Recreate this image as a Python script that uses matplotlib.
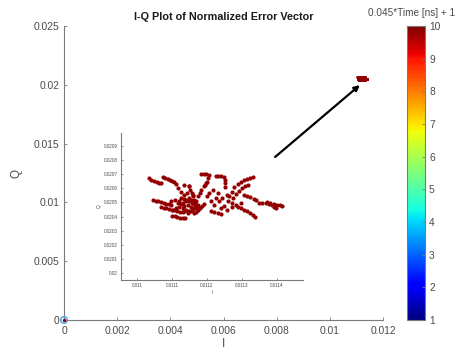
import numpy as np
import matplotlib
matplotlib.use("Agg")
import matplotlib.pyplot as plt
from matplotlib.ticker import FuncFormatter
import matplotlib.cm as cm
import matplotlib.colors as mcolors

plt.rcParams['font.family'] = ['Liberation Sans', 'DejaVu Sans']

# ---------------- data ----------------
# traces of the normalized error vector (I, Q)
trace_I = [
    [0.011033, 0.011041, 0.011048, 0.011056, 0.011063, 0.011069],
    [0.011074, 0.011081, 0.011088, 0.011095, 0.011100, 0.011105],
    [0.011045, 0.011053, 0.011061, 0.011068, 0.011076, 0.011083, 0.011091, 0.011098],
    [0.011069, 0.011077, 0.011084, 0.011092, 0.011099, 0.011107, 0.011114, 0.011122, 0.011130],
    [0.011099, 0.011107, 0.011114, 0.011122, 0.011130, 0.011137],
    [0.011097, 0.011107, 0.011116, 0.011126, 0.011135, 0.011145, 0.011154, 0.011164, 0.011173],
    [0.011102, 0.011112, 0.011121, 0.011130, 0.011140, 0.011149, 0.011159, 0.011168],
    [0.011149, 0.011152, 0.011156, 0.011159, 0.011162, 0.011165, 0.011169],
    [0.011126, 0.011133, 0.011141, 0.011148, 0.011156, 0.011164],
    [0.011164, 0.011169, 0.011175, 0.011181, 0.011186, 0.011192],
    [0.011173, 0.011179, 0.011184, 0.011190, 0.011196],
    [0.011183, 0.011190, 0.011198, 0.011205, 0.011203, 0.011200, 0.011194],
    [0.011225, 0.011232, 0.011239, 0.011247, 0.011251, 0.011252, 0.011251],
    [0.011260, 0.011264, 0.011270, 0.011277, 0.011287, 0.011296, 0.011305, 0.011315, 0.011324, 0.011332],
    [0.011270, 0.011275, 0.011282, 0.011290, 0.011300, 0.011309, 0.011317],
    [0.011305, 0.011315, 0.011324, 0.011334, 0.011341, 0.011347],
    [0.011357, 0.011367, 0.011376, 0.011386, 0.011392, 0.011398],
    [0.011372, 0.011381, 0.011391, 0.011400, 0.011409, 0.011415],
    [0.011287, 0.011296, 0.011305, 0.011315, 0.011324, 0.011332, 0.011336],
    [0.011211, 0.011220, 0.011230, 0.011239],
    [0.011201, 0.011211, 0.011220, 0.011230, 0.011239, 0.011249, 0.011258, 0.011272, 0.011282,
     0.011296, 0.011225, 0.011235, 0.011216, 0.011206, 0.011244, 0.011258, 0.011112, 0.011118,
     0.011126, 0.011135, 0.011147],
    [0.011121, 0.011130, 0.011140, 0.011147, 0.011154, 0.011135, 0.011145, 0.011154, 0.011168,
     0.011173, 0.011159, 0.011143, 0.011133],
]
trace_Q = [
    [0.020671, 0.020662, 0.020653, 0.020645, 0.020638, 0.020636],
    [0.020679, 0.020671, 0.020664, 0.020657, 0.020650, 0.020643],
    [0.020514, 0.020511, 0.020507, 0.020502, 0.020497, 0.020492, 0.020488, 0.020483],
    [0.020466, 0.020462, 0.020457, 0.020452, 0.020448, 0.020443, 0.020438, 0.020434, 0.020429],
    [0.020405, 0.020401, 0.020396, 0.020393, 0.020391, 0.020389],
    [0.020507, 0.020514, 0.020499, 0.020490, 0.020476, 0.020481, 0.020466, 0.020459, 0.020452],
    [0.020448, 0.020457, 0.020466, 0.020459, 0.020448, 0.020438, 0.020452, 0.020471],
    [0.020613, 0.020589, 0.020565, 0.020542, 0.020518, 0.020495, 0.020471],
    [0.020530, 0.020523, 0.020514, 0.020507, 0.020499, 0.020490],
    [0.020424, 0.020434, 0.020448, 0.020462, 0.020476, 0.020490],
    [0.020542, 0.020565, 0.020589, 0.020613, 0.020636],
    [0.020702, 0.020704, 0.020702, 0.020693, 0.020671, 0.020648, 0.020624],
    [0.020690, 0.020688, 0.020686, 0.020683, 0.020660, 0.020636, 0.020608],
    [0.020507, 0.020542, 0.020577, 0.020608, 0.020631, 0.020648, 0.020660, 0.020669, 0.020676, 0.020681],
    [0.020499, 0.020530, 0.020561, 0.020584, 0.020601, 0.020613, 0.020620],
    [0.020554, 0.020547, 0.020537, 0.020525, 0.020514, 0.020499],
    [0.020495, 0.020495, 0.020490, 0.020483, 0.020471, 0.020457],
    [0.020502, 0.020497, 0.020492, 0.020485, 0.020481, 0.020476],
    [0.020466, 0.020457, 0.020448, 0.020438, 0.020424, 0.020410, 0.020396],
    [0.020441, 0.020431, 0.020424, 0.020417],
    [0.020542, 0.020507, 0.020483, 0.020565, 0.020459, 0.020476, 0.020448, 0.020466, 0.020483,
     0.020495, 0.020530, 0.020507, 0.020589, 0.020565, 0.020530, 0.020554, 0.020631, 0.020601,
     0.020577, 0.020624, 0.020613],
    [0.020507, 0.020495, 0.020507, 0.020530, 0.020518, 0.020436, 0.020424, 0.020436, 0.020507,
     0.020483, 0.020554, 0.020565, 0.020554],
]
trace_color_value = 9.85          # 0.045*Time[ns] + 1 of the plotted samples
origin_I = [0.0]
origin_Q = [0.0]

main_xticks = [0, 0.002, 0.004, 0.006, 0.008, 0.01, 0.012]
main_yticks = [0, 0.005, 0.01, 0.015, 0.02, 0.025]
inset_xticks = [0.011, 0.0111, 0.0112, 0.0113, 0.0114]
inset_yticks = [0.02, 0.0201, 0.0202, 0.0203, 0.0204, 0.0205, 0.0206, 0.0207, 0.0208, 0.0209]
cbar_ticks = [1, 2, 3, 4, 5, 6, 7, 8, 9, 10]

arrow_tail = (0.00794, 0.01386)
arrow_head = (0.01113, 0.01998)

# ---------------- figure ----------------
fig = plt.figure(figsize=(4.70, 3.54), dpi=100)
text_col = '#4a4a4a'
spine_col = '#7a7a7a'
cmap = plt.get_cmap('jet')
norm = mcolors.Normalize(vmin=1, vmax=10)
pt_col = cmap(norm(trace_color_value))

all_I = np.concatenate([np.array(t) for t in trace_I])
all_Q = np.concatenate([np.array(t) for t in trace_Q])

fmt = FuncFormatter(lambda v, p: ('%g' % round(v, 6)))


def style_axes(ax, fs, ticklen, pad):
    for s in ['top', 'right']:
        ax.spines[s].set_visible(False)
    for s in ['left', 'bottom']:
        ax.spines[s].set_color(spine_col)
        ax.spines[s].set_linewidth(0.8)
    ax.tick_params(direction='in', length=ticklen, width=0.6, colors=spine_col,
                   labelcolor=text_col, labelsize=fs, pad=pad)
    ax.xaxis.set_major_formatter(fmt)
    ax.yaxis.set_major_formatter(fmt)


# main axes
ax = fig.add_axes([0.1362, 0.096, 0.6787, 0.8305])
ax.scatter(all_I, all_Q, s=4, color=pt_col, linewidths=0, zorder=3)
ax.scatter(origin_I, origin_Q, s=22, facecolors='none', edgecolors='#5aa8ea',
           linewidths=1.2, zorder=5, clip_on=False)
ax.scatter(origin_I, origin_Q, s=6, color=pt_col, linewidths=0, zorder=6, clip_on=False)
ax.set_xlim(0, 0.012)
ax.set_ylim(0, 0.025)
ax.set_xticks(main_xticks)
ax.set_yticks(main_yticks)
style_axes(ax, 7.4, 2.5, 3.5)
ax.tick_params(axis='x', pad=4)
ax.set_xlabel('I', fontsize=8.5, color=text_col, labelpad=2)
ax.set_ylabel('Q', fontsize=8.5, color=text_col, labelpad=8)
ax.set_title('I-Q Plot of Normalized Error Vector', fontsize=7.8, fontweight='bold',
             color='#1a1a1a', pad=4)
ax.annotate('', xy=arrow_head, xytext=arrow_tail,
            arrowprops=dict(arrowstyle='-|>', color='black', lw=1.6,
                            mutation_scale=8, shrinkA=0, shrinkB=0), zorder=7)

# inset axes
axi = fig.add_axes([0.2574, 0.209, 0.3872, 0.4153])
axi.patch.set_alpha(0)
axi.scatter(all_I, all_Q, s=9, color=pt_col, linewidths=0, zorder=3)
axi.set_xlim(0.010954, 0.011474)
axi.set_ylim(0.01995, 0.020992)
axi.set_xticks(inset_xticks)
axi.set_yticks(inset_yticks)
style_axes(axi, 3.3, 1.5, 2.5)
axi.set_xlabel('I', fontsize=3.5, color=text_col, labelpad=1)
axi.set_ylabel('Q', fontsize=3.5, color=text_col, labelpad=1)

# colorbar
cax = fig.add_axes([0.866, 0.096, 0.038, 0.8305])
sm = cm.ScalarMappable(norm=norm, cmap=cmap)
cb = fig.colorbar(sm, cax=cax, ticks=cbar_ticks)
cb.outline.set_edgecolor(spine_col)
cb.outline.set_linewidth(0.8)
cax.tick_params(direction='in', length=2, width=0.6, colors=spine_col,
                labelcolor=text_col, labelsize=7.4, pad=3)
fig.text(0.875, 0.962, '0.045*Time [ns] + 1', fontsize=7.2, color=text_col,
         ha='center', va='center')

fig.savefig('out.png', dpi=100)
